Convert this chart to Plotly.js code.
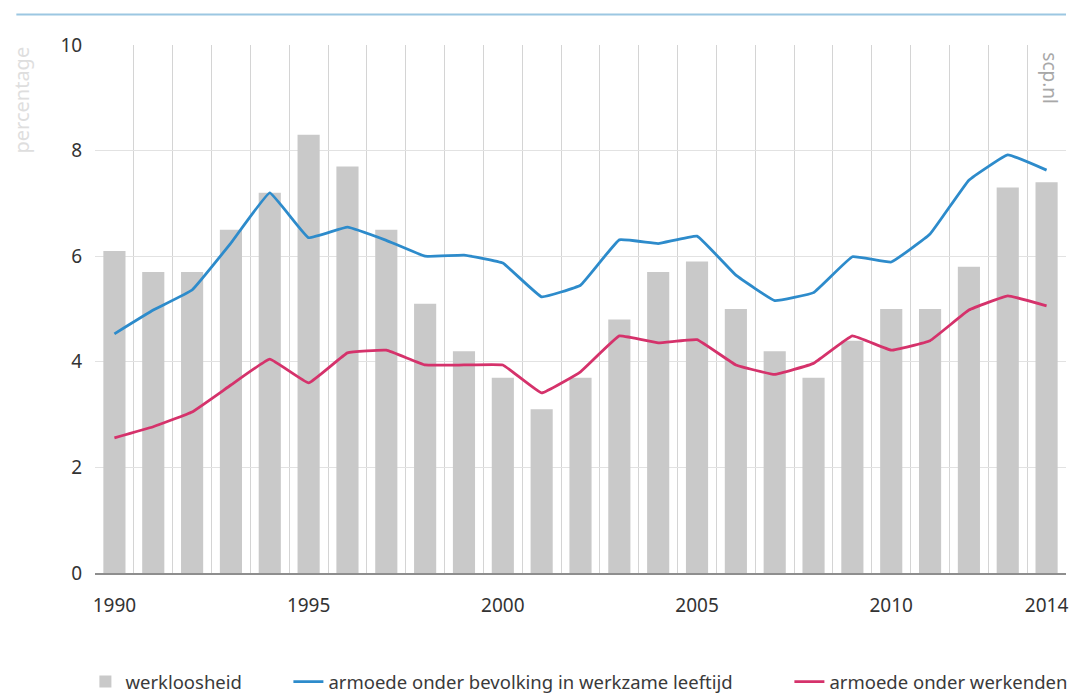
<!DOCTYPE html>
<html>
<head>
<meta charset="utf-8">
<script src="https://cdn.plot.ly/plotly-3.0.1.min.js"></script>
<style>html,body{margin:0;padding:0;background:#fff;}#chart{width:1071px;height:693px;}</style>
</head>
<body>
<div id="chart"></div>
<script>
var years = [1990,1991,1992,1993,1994,1995,1996,1997,1998,1999,2000,2001,2002,2003,2004,2005,2006,2007,2008,2009,2010,2011,2012,2013,2014];
var werkloosheid = [6.1,5.7,5.7,6.5,7.2,8.3,7.7,6.5,5.1,4.2,3.7,3.1,3.7,4.8,5.7,5.9,5.0,4.2,3.7,4.4,5.0,5.0,5.8,7.3,7.4];
var armoedeBevolking = [4.53,4.98,5.36,6.25,7.2,6.35,6.55,6.3,6.0,6.02,5.87,5.23,5.45,6.31,6.24,6.38,5.64,5.16,5.31,5.99,5.89,6.42,7.44,7.92,7.63];
var armoedeWerkenden = [2.56,2.77,3.05,3.56,4.05,3.6,4.17,4.22,3.94,3.94,3.94,3.41,3.81,4.49,4.36,4.42,3.94,3.76,3.97,4.49,4.22,4.4,4.98,5.25,5.06];
var xTicks = [1990,1995,2000,2005,2010,2014];
var yTicks = [0,2,4,6,8,10];
var seriesNames = ['werkloosheid','armoede onder bevolking in werkzame leeftijd','armoede onder werkenden'];

var font = 'Noto Sans, Open Sans, sans-serif';
var traces = [
  {type:'bar', x:years, y:werkloosheid, name:seriesNames[0], width:0.57,
   marker:{color:'#c9c9c9'}, legend:'legend'},
  {type:'scatter', mode:'lines', x:years, y:armoedeBevolking, name:seriesNames[1],
   line:{color:'#2d8bcb', width:2.8, shape:'spline', smoothing:0.25}, legend:'legend2'},
  {type:'scatter', mode:'lines', x:years, y:armoedeWerkenden, name:seriesNames[2],
   line:{color:'#d5326b', width:2.8, shape:'spline', smoothing:0.25}, legend:'legend3'}
];

function leg(xpx){
  return {orientation:'h', xref:'container', yref:'container', x:xpx/1071, xanchor:'left',
          y:11/693, yanchor:'middle', font:{size:18.5, color:'#3a3a3a'}, itemwidth:30,
          bgcolor:'rgba(0,0,0,0)'};
}

var layout = {
  width:1071, height:693,
  margin:{l:95, r:5, t:45, b:120},
  paper_bgcolor:'#fff', plot_bgcolor:'#fff',
  font:{family:font, size:17, color:'#333'},
  showlegend:true,
  legend:leg(85.4),
  legend2:leg(288.4),
  legend3:leg(789.4),
  xaxis:{type:'linear', range:[1989.5,2014.5], tickmode:'array', tickvals:xTicks,
         showgrid:false, zeroline:false, showline:true, linecolor:'#8e8e8e', linewidth:2,
         ticks:'outside', ticklen:14, tickcolor:'rgba(0,0,0,0)',
         minor:{tick0:1989.5, dtick:1, showgrid:true, gridcolor:'#d4d4d4', gridwidth:1, ticks:''},
         tickfont:{size:19, color:'#333'}},
  yaxis:{range:[0,10], tickmode:'array', tickvals:yTicks, showgrid:true, gridcolor:'#e2e2e2',
         zeroline:false, showline:false, ticks:'outside', ticklen:8, tickcolor:'rgba(0,0,0,0)',
         tickfont:{size:19, color:'#333'}},
  shapes:[
    {type:'line', xref:'paper', yref:'paper', x0:-0.081, x1:1.0, y0:1.058, y1:1.058,
     line:{color:'#9cc7e2', width:2}}
  ],
  annotations:[
    {xref:'paper', yref:'paper', x:(21-95)/971, y:1.0, xanchor:'center', yanchor:'top',
     text:'percentage', textangle:-90, showarrow:false, font:{size:20, color:'#dedede'}},
    {xref:'paper', yref:'paper', x:(1050-95)/971, y:0.99, xanchor:'center', yanchor:'top',
     text:'scp.nl', textangle:90, showarrow:false, font:{size:19, color:'#a8a8a8'}}
  ]
};

Plotly.newPlot('chart', traces, layout, {displayModeBar:false, staticPlot:true});
</script>
</body>
</html>
